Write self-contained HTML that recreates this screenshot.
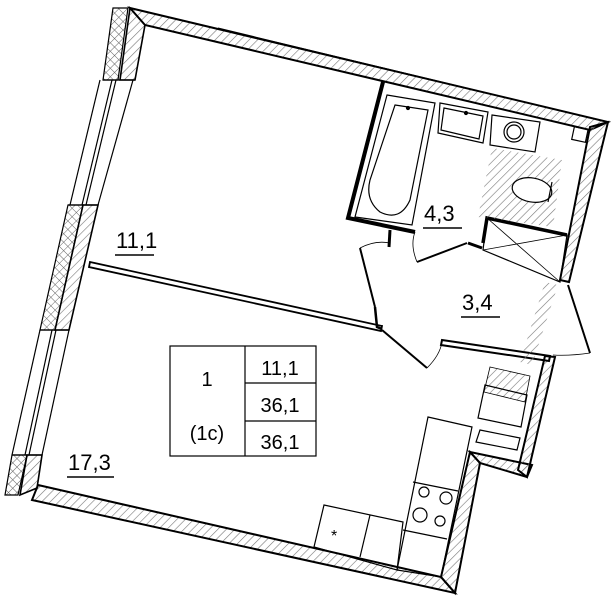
<!DOCTYPE html>
<html><head><meta charset="utf-8"><style>
html,body{margin:0;padding:0;background:#fff;width:612px;height:600px;overflow:hidden}
svg{display:block}
text{font-family:"Liberation Sans",sans-serif;fill:#000}
</style></head><body>
<svg width="612" height="600" viewBox="0 0 612 600" xmlns="http://www.w3.org/2000/svg">
<defs>
<pattern id="h" width="6" height="6" patternUnits="userSpaceOnUse" patternTransform="rotate(45)">
<line x1="0" y1="0" x2="0" y2="6" stroke="#777" stroke-width="1.2"/></pattern>
<pattern id="x" width="6" height="6" patternUnits="userSpaceOnUse" patternTransform="rotate(45)">
<line x1="0" y1="0" x2="0" y2="6" stroke="#666" stroke-width="1"/><line x1="0" y1="0" x2="6" y2="0" stroke="#666" stroke-width="1"/></pattern>
</defs>
<g fill="none" stroke="#000" stroke-width="1.2">
<!-- top wall -->
<polygon points="130,8 608,122 590,130 145,25" fill="url(#h)" stroke-width="2"/>
<line x1="218" y1="28" x2="590" y2="118" stroke-width="1"/>
<!-- right wall (bath) -->
<polygon points="608,122 569,282 560,280 590,127" fill="url(#h)" stroke-width="2"/>
<!-- left wall piers -->
<polygon points="113,8 128,8 118,80 103,80" fill="url(#x)"/>
<polygon points="130,8 145,25 135,80 120,80" fill="url(#h)" stroke-width="1.6"/>
<polygon points="68,205 83,205 55,330 40,330" fill="url(#x)"/>
<polygon points="83,205 98,205 69,330 55,330" fill="url(#h)" stroke-width="1.6"/>
<polygon points="12,455 27,455 18,495 5,495" fill="url(#x)"/>
<polygon points="27,455 42,455 37,488 20,495" fill="url(#h)" stroke-width="1.6"/>
<!-- windows -->
<line x1="100" y1="80" x2="70" y2="205"/>
<line x1="133" y1="80" x2="98" y2="205"/>
<line x1="112" y1="80" x2="82" y2="205"/>
<line x1="116" y1="80" x2="86" y2="205"/>
<line x1="103" y1="80" x2="135" y2="80"/>
<line x1="68" y1="205" x2="98" y2="205"/>
<line x1="40" y1="330" x2="12" y2="455"/>
<line x1="69" y1="330" x2="42" y2="455"/>
<line x1="52" y1="330" x2="25" y2="455"/>
<line x1="56" y1="330" x2="29" y2="455"/>
<line x1="40" y1="330" x2="69" y2="330"/>
<line x1="12" y1="455" x2="42" y2="455"/>
<!-- bottom wall -->
<polygon points="38,485 441,577 455,593 32,500" fill="url(#h)" stroke-width="2"/>
<!-- kitchen right wall -->
<polygon points="441,577 470,452 480,463 455,593" fill="url(#h)" stroke-width="2"/>
<polygon points="470,452 480,463 527,477 532,465" fill="url(#h)" stroke-width="2"/>
<polygon points="545,356 555,357 527,477 518,470" fill="url(#h)" stroke-width="2"/>
<!-- interior partition -->
<polygon points="90,262 382,326 381,331 89,267" stroke-width="1.8"/>
<polyline points="375,307 377,327 382,329" stroke-width="2.5"/>
<!-- bathroom walls -->
<polyline points="415,232 348,218 383,82" stroke-width="4"/>
<polyline points="483,243 487,218 567,235" stroke-width="3.5"/>
<line x1="390" y1="230" x2="389" y2="247" stroke-width="3"/>
<polyline points="468,243 482,248" stroke-width="3"/>
<!-- bath -->
<polygon points="387,95 435,103 412,225 355,217"/>
<path d="M395,105 L428,110 L410,200 Q400,222 380,212 Q365,200 370,180 Z"/>
<circle cx="408" cy="108" r="1.5" fill="#000"/>
<!-- sink -->
<polygon points="440,103 488,112 483,143 438,133"/>
<polygon points="444,108 483,116 479,139 441,130"/>
<circle cx="466" cy="113" r="1.5" fill="#000"/>
<!-- washer -->
<polygon points="492,115 540,122 535,152 490,145"/>
<circle cx="514" cy="132" r="10"/><circle cx="514" cy="132" r="7"/>
<!-- toilet zone -->
<polygon points="492,148 562,160 553,227 478,217" fill="url(#h)" stroke="none"/>
<ellipse cx="532" cy="190" rx="20" ry="12" fill="#fff" transform="rotate(10 532 190)"/>
<line x1="552" y1="182" x2="548" y2="202"/>
<rect x="573" y="128" width="14" height="13" transform="rotate(12 580 134)"/>
<!-- shaft -->
<polygon points="487,218 567,235 560,282 483,250"/>
<line x1="487" y1="218" x2="560" y2="282" stroke-width="0.8"/>
<line x1="483" y1="250" x2="567" y2="235" stroke-width="0.8"/>
<!-- bath door -->
<line x1="467" y1="243" x2="417" y2="262" stroke-width="2"/>
<path d="M417,262 Q410,245 415,232" stroke-width="0.8"/>
<!-- hall left door -->
<line x1="360" y1="248" x2="375" y2="307" stroke-width="2"/>
<path d="M360,248 Q375,240 390,243" stroke-width="0.8"/>
<!-- room door -->
<line x1="382" y1="330" x2="427" y2="368" stroke-width="2"/>
<path d="M427,368 Q440,355 442,342" stroke-width="0.8"/>
<!-- hall bottom wall -->
<polygon points="442,340 550,356 549,361 441,345" stroke-width="2"/>
<!-- entrance door -->
<line x1="568" y1="285" x2="590" y2="353" stroke-width="2"/>
<path d="M590,353 Q570,356 553,355" stroke-width="0.8"/>
<!-- dashed strip -->
<polygon points="545,282 558,285 532,365 520,362" fill="url(#h)" stroke="none"/>
<!-- kitchen appliances -->
<polygon points="490,367 530,376 525,402 484,392" fill="url(#h)" stroke-width="0.8"/>
<polygon points="485,385 527,395 521,427 478,418"/>
<polygon points="480,430 520,438 517,450 476,442"/>
<!-- kitchen counters -->
<polygon points="428,417 472,427 441,577 397,570"/>
<line x1="413" y1="482" x2="458" y2="491"/>
<line x1="403" y1="530" x2="447" y2="539"/>
<circle cx="424" cy="492" r="5"/><circle cx="446" cy="498" r="6"/>
<circle cx="420" cy="515" r="7"/><circle cx="440" cy="521" r="5"/>
<polygon points="324,505 403,522 397,570 314,547"/>
<line x1="370" y1="515" x2="360" y2="557"/>
<text x="331" y="541" font-size="16" stroke="none">*</text>
</g>
<!-- table -->
<g fill="none" stroke="#000" stroke-width="1.2">
<rect x="170" y="346" width="146" height="110"/>
<line x1="245" y1="346" x2="245" y2="456"/>
<line x1="245" y1="383" x2="316" y2="383"/>
<line x1="245" y1="421" x2="316" y2="421"/>
</g>
<g font-size="20" text-anchor="middle">
<text x="207" y="386">1</text>
<text x="207" y="440">(1c)</text>
<text x="280" y="375">11,1</text>
<text x="280" y="412">36,1</text>
<text x="280" y="449">36,1</text>
</g>
<g font-size="22">
<text x="116" y="248">11,1</text>
<text x="424" y="221">4,3</text>
<text x="462" y="310">3,4</text>
<text x="68" y="470">17,3</text>
</g>
<g stroke="#000" stroke-width="1.5">
<line x1="115" y1="255" x2="154" y2="255"/>
<line x1="423" y1="228" x2="462" y2="228"/>
<line x1="461" y1="317" x2="500" y2="317"/>
<line x1="67" y1="477" x2="114" y2="477"/>
</g>
</svg>
</body></html>
